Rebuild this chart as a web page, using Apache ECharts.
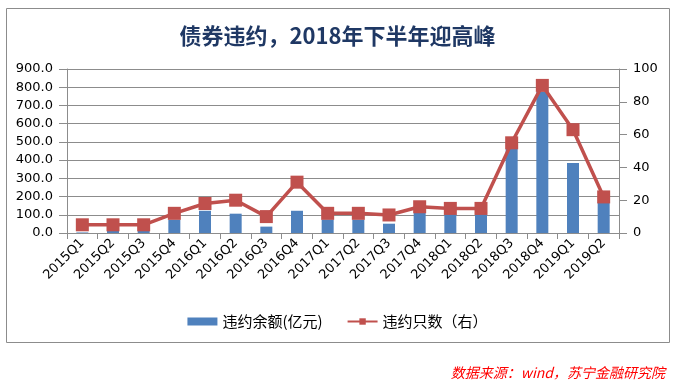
<!DOCTYPE html>
<html><head><meta charset="utf-8">
<script src="https://cdn.jsdelivr.net/npm/echarts@6/dist/echarts.min.js"></script>
<style>html,body{margin:0;padding:0;background:#fff}#c{width:675px;height:386px}</style>
</head><body><div id="c"></div>
<script>
const categories = ['2015Q1','2015Q2','2015Q3','2015Q4','2016Q1','2016Q2','2016Q3','2016Q4','2017Q1','2017Q2','2017Q3','2017Q4','2018Q1','2018Q2','2018Q3','2018Q4','2019Q1','2019Q2'];
const amountValues = [3, 24, 12, 73, 122, 106, 35, 122, 74, 73, 51, 111, 104, 110, 463, 775, 384, 168];
const countValues = [5, 5, 5, 12, 18, 20, 10, 31, 12, 12, 11, 16, 15, 15, 55, 90, 63, 22];
const leftTicks = [0, 900, 100];
const rightTicks = [0, 100, 20];

const chart = echarts.init(document.getElementById('c'));
const axisFont = {fontFamily: 'DejaVu Sans', fontSize: 13, color: '#000'};
chart.setOption({
  animation: false,
  graphic: [{type: 'rect', shape: {x: 6.5, y: 8.5, width: 663, height: 334}, style: {fill: 'none', stroke: '#8c8c8c', lineWidth: 1}, z: -1}],
  title: [{
    text: '债券违约，2018年下半年迎高峰', left: 'center', top: 20,
    textStyle: {fontFamily: 'Noto Sans CJK SC', fontWeight: 'bold', fontSize: 22, color: '#1F3864'}
  }, {
    text: '数据来源：wind，苏宁金融研究院', right: 5, top: 361,
    textStyle: {fontFamily: 'Noto Sans CJK SC', fontStyle: 'italic', fontWeight: 'normal', fontSize: 14, color: '#ff0000'}
  }],
  legend: {
    top: 309, left: 'center', itemGap: 24, itemWidth: 30, itemHeight: 8,
    textStyle: {fontFamily: 'Noto Sans CJK SC', fontSize: 15, color: '#000'},
    data: [{name: '违约余额(亿元)', icon: 'rect'}, {name: '违约只数（右）'}]
  },
  grid: {left: 67, right: 56, top: 69, bottom: 153},
  xAxis: {
    type: 'category', data: categories,
    axisLine: {lineStyle: {color: '#8c8c8c'}},
    axisTick: {show: true, alignWithLabel: false, length: 6, lineStyle: {color: '#8c8c8c'}},
    axisLabel: Object.assign({rotate: 45, margin: 8, interval: 0}, axisFont)
  },
  yAxis: [{
    type: 'value', min: leftTicks[0], max: leftTicks[1], interval: leftTicks[2],
    axisLine: {show: true, lineStyle: {color: '#8c8c8c'}},
    axisTick: {show: true, length: 8, lineStyle: {color: '#8c8c8c'}},
    splitLine: {lineStyle: {color: '#8c8c8c'}},
    axisLabel: Object.assign({margin: 14, formatter: v => v.toFixed(1)}, axisFont)
  }, {
    type: 'value', min: rightTicks[0], max: rightTicks[1], interval: rightTicks[2],
    axisLine: {show: true, lineStyle: {color: '#8c8c8c'}},
    axisTick: {show: true, length: 8, lineStyle: {color: '#8c8c8c'}},
    splitLine: {show: false},
    axisLabel: Object.assign({margin: 14}, axisFont)
  }],
  series: [{
    name: '违约余额(亿元)', type: 'bar', data: amountValues, barWidth: 12,
    itemStyle: {color: '#4F81BD'}
  }, {
    name: '违约只数（右）', type: 'line', yAxisIndex: 1, data: countValues,
    symbol: 'rect', symbolSize: 13, showAllSymbol: true,
    lineStyle: {color: '#C0504D', width: 3.5},
    itemStyle: {color: '#C0504D'}
  }]
});
</script></body></html>
